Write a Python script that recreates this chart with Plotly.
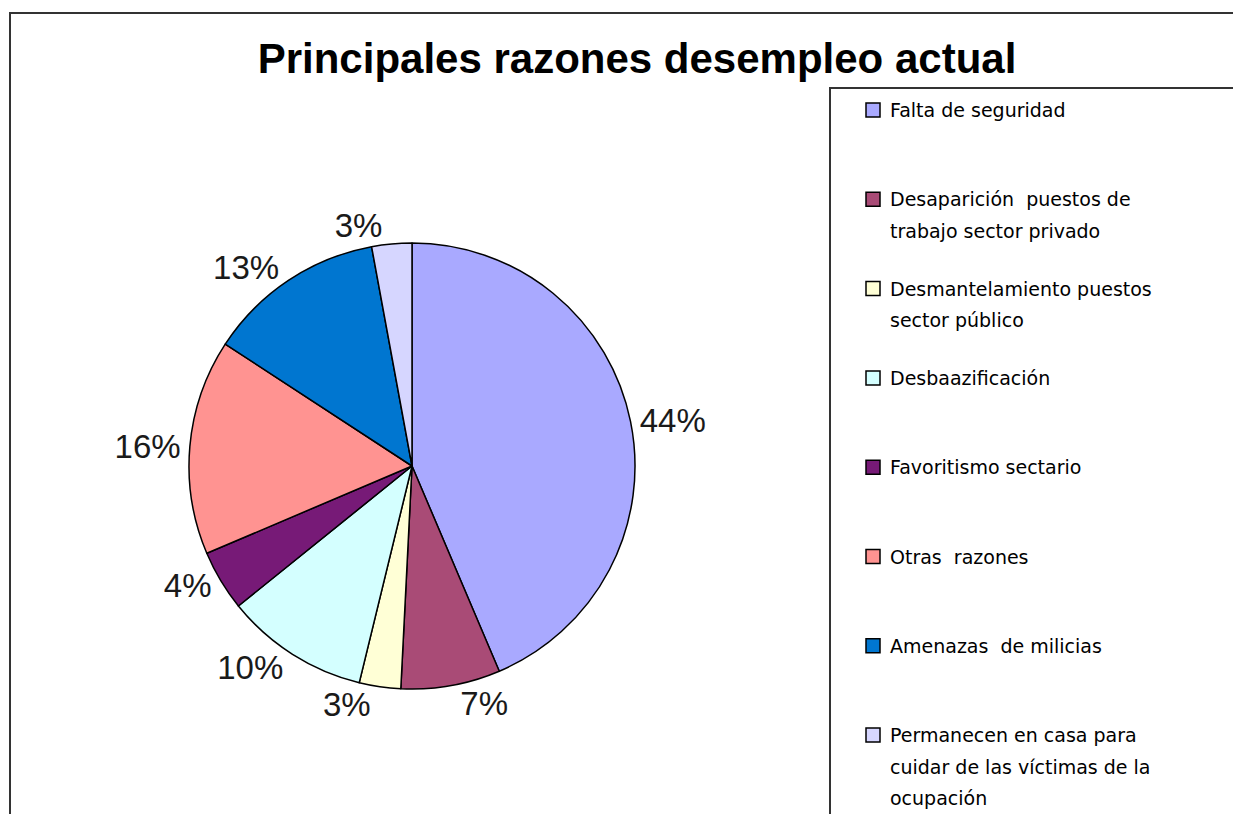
import plotly.graph_objects as go

W, H = 1241, 814
OFF = 8  # margen por defecto del <body> en la página

# Datos (porcentajes)
razones = [
    "Falta de seguridad",
    "Desaparición puestos de trabajo sector privado",
    "Desmantelamiento puestos sector público",
    "Desbaazificación",
    "Favoritismo sectario",
    "Otras razones",
    "Amenazas de milicias",
    "Permanecen en casa para cuidar de las víctimas de la ocupación",
]
porcentajes = [43.6, 7.2, 3.0, 10.4, 4.4, 15.6, 12.9, 2.9]

# Texto de la leyenda, partido en líneas como en el original
leyenda_lineas = [
    ["Falta de seguridad"],
    ["Desaparición  puestos de", "trabajo sector privado"],
    ["Desmantelamiento puestos", "sector público"],
    ["Desbaazificación"],
    ["Favoritismo sectario"],
    ["Otras  razones"],
    ["Amenazas  de milicias"],
    ["Permanecen en casa para", "cuidar de las víctimas de la", "ocupación"],
]

colores = ["#A9A9FF", "#A94B76", "#FFFFD6", "#D4FFFF",
           "#771A77", "#FF9391", "#0076D0", "#D6D6FF"]


def px_x(x):
    return (x - OFF) / W


def px_y(y):
    return 1 - (y - OFF) / H


# Centro y radio de la tarta, en píxeles de la captura
cx, cy, r = 412, 466, 223

fig = go.Figure()

fig.add_trace(go.Pie(
    labels=razones,
    values=porcentajes,
    sort=False,
    direction="clockwise",
    rotation=0,
    marker=dict(colors=colores, line=dict(color="#000000", width=1.5)),
    textposition="outside",
    texttemplate="%{percent:.0%}",
    outsidetextfont=dict(family="Liberation Sans, Arial", size=33, color="#1a1a1a"),
    domain=dict(x=[px_x(cx - r), px_x(cx + r)], y=[px_y(cy + r), px_y(cy - r)]),
    showlegend=False,
    hoverinfo="label+percent",
))

shapes = []
annotations = []

# Marco exterior
shapes.append(dict(type="rect", xref="paper", yref="paper",
                   x0=px_x(10), x1=px_x(W + 20), y0=px_y(H + 20), y1=px_y(13),
                   line=dict(color="#333333", width=2), fillcolor="rgba(0,0,0,0)"))

# Caja de la leyenda
shapes.append(dict(type="rect", xref="paper", yref="paper",
                   x0=px_x(830), x1=px_x(W + 20), y0=px_y(H + 20), y1=px_y(88),
                   line=dict(color="#333333", width=2), fillcolor="rgba(0,0,0,0)"))

# Entradas de la leyenda
y0_leyenda, paso, interlinea = 110, 89.3, 31.5
for i, lineas in enumerate(leyenda_lineas):
    yc = y0_leyenda + i * paso
    shapes.append(dict(type="rect", xref="paper", yref="paper",
                       x0=px_x(866), x1=px_x(880), y0=px_y(yc + 7), y1=px_y(yc - 7),
                       line=dict(color="#000000", width=1.5), fillcolor=colores[i]))
    for j, texto in enumerate(lineas):
        annotations.append(dict(
            x=px_x(888), y=px_y(yc + j * interlinea), xref="paper", yref="paper",
            text=texto, showarrow=False, xanchor="left", yanchor="middle",
            font=dict(family="DejaVu Sans", size=19, color="#000000"),
        ))

fig.update_layout(
    width=W, height=H,
    margin=dict(l=0, r=0, t=0, b=0),
    paper_bgcolor="white",
    plot_bgcolor="white",
    title=dict(
        text="<b>Principales razones desempleo actual</b>",
        x=px_x(637), xanchor="center", y=px_y(58), yanchor="middle",
        font=dict(family="Liberation Sans, Arial", size=42, color="#000000"),
    ),
    shapes=shapes,
    annotations=annotations,
)

fig.write_html("out.html")
